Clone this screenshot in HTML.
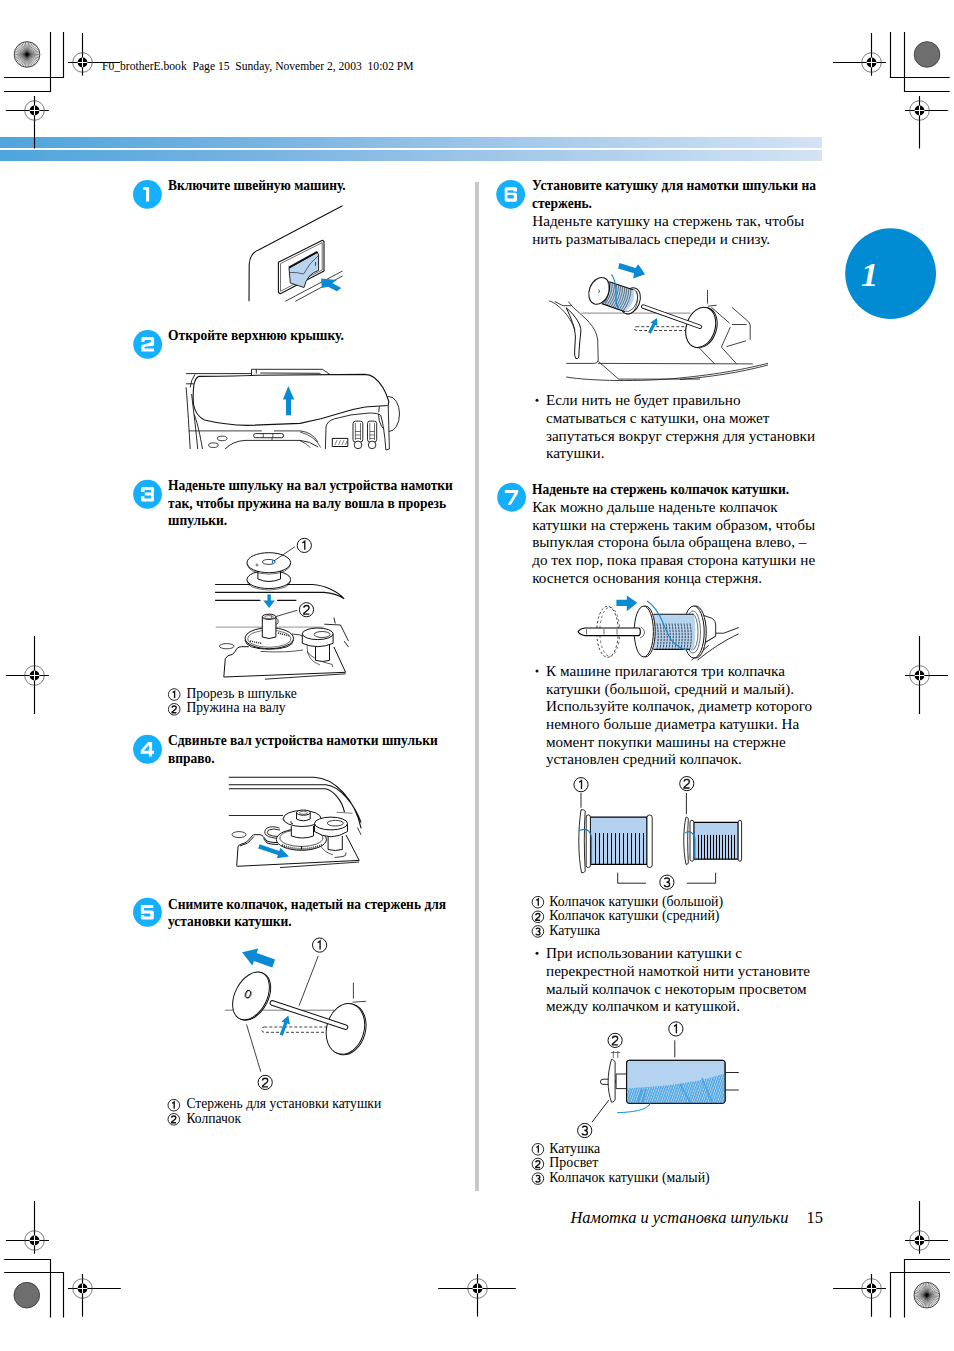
<!DOCTYPE html>
<html><head><meta charset="utf-8"><style>
html,body{margin:0;padding:0;background:#fff}
body{width:954px;height:1351px;position:relative;overflow:hidden}
svg{position:absolute;left:0;top:0}
.t{position:absolute;white-space:nowrap;font-family:"Liberation Serif",serif;color:#000}
.sn{font-family:"Liberation Sans",sans-serif;font-weight:bold;font-size:19px;fill:#fff;text-anchor:middle}
.cn{font-family:"Liberation Sans",sans-serif;fill:#111;text-anchor:middle}
</style></head><body>
<svg width="954" height="1351" viewBox="0 0 954 1351">
<defs><linearGradient id="bg" x1="0" x2="822" gradientUnits="userSpaceOnUse"><stop offset="0" stop-color="#4ea5dc"/><stop offset="0.292" stop-color="#74b2e0"/><stop offset="0.584" stop-color="#9dc5e8"/><stop offset="1" stop-color="#d4e3f4"/></linearGradient></defs><rect x="0" y="137" width="822" height="11" fill="url(#bg)"/><rect x="0" y="150" width="822" height="11" fill="url(#bg)"/><path d="M68 62.5H120M82.5 33V75.7" stroke="#000" stroke-width="1.15"/><circle cx="82.5" cy="62.5" r="9.8" fill="none" stroke="#444" stroke-width="0.7"/><circle cx="82.5" cy="62.5" r="4.9" fill="#000"/><path d="M77.6 62.5H87.4M82.5 57.6V67.4" stroke="#fff" stroke-width="1"/><path d="M5.9 110.5H48.8M34.5 96V148.6" stroke="#000" stroke-width="1.15"/><circle cx="34.5" cy="110.5" r="9.8" fill="none" stroke="#444" stroke-width="0.7"/><circle cx="34.5" cy="110.5" r="4.9" fill="#000"/><path d="M29.6 110.5H39.4M34.5 105.6V115.4" stroke="#fff" stroke-width="1"/><path d="M833 62.5H885.8M871.5 33V75.7" stroke="#000" stroke-width="1.15"/><circle cx="871.5" cy="62.5" r="9.8" fill="none" stroke="#444" stroke-width="0.7"/><circle cx="871.5" cy="62.5" r="4.9" fill="#000"/><path d="M866.6 62.5H876.4M871.5 57.6V67.4" stroke="#fff" stroke-width="1"/><path d="M905 110.5H947.8M919.5 96V148.6" stroke="#000" stroke-width="1.15"/><circle cx="919.5" cy="110.5" r="9.8" fill="none" stroke="#444" stroke-width="0.7"/><circle cx="919.5" cy="110.5" r="4.9" fill="#000"/><path d="M914.6 110.5H924.4M919.5 105.6V115.4" stroke="#fff" stroke-width="1"/><path d="M5.9 675.5H48.9M34.5 635.9V713.9" stroke="#000" stroke-width="1.15"/><circle cx="34.5" cy="675.5" r="9.8" fill="none" stroke="#444" stroke-width="0.7"/><circle cx="34.5" cy="675.5" r="4.9" fill="#000"/><path d="M29.6 675.5H39.4M34.5 670.6V680.4" stroke="#fff" stroke-width="1"/><path d="M905 675.5H948M919.5 635.9V713.9" stroke="#000" stroke-width="1.15"/><circle cx="919.5" cy="675.5" r="9.8" fill="none" stroke="#444" stroke-width="0.7"/><circle cx="919.5" cy="675.5" r="4.9" fill="#000"/><path d="M914.6 675.5H924.4M919.5 670.6V680.4" stroke="#fff" stroke-width="1"/><path d="M5.9 1240.5H49M34.5 1201V1253.8" stroke="#000" stroke-width="1.15"/><circle cx="34.5" cy="1240.5" r="9.8" fill="none" stroke="#444" stroke-width="0.7"/><circle cx="34.5" cy="1240.5" r="4.9" fill="#000"/><path d="M29.6 1240.5H39.4M34.5 1235.6V1245.4" stroke="#fff" stroke-width="1"/><path d="M67.9 1288.5H120.8M82.5 1274V1316.7" stroke="#000" stroke-width="1.15"/><circle cx="82.5" cy="1288.5" r="9.8" fill="none" stroke="#444" stroke-width="0.7"/><circle cx="82.5" cy="1288.5" r="4.9" fill="#000"/><path d="M77.6 1288.5H87.4M82.5 1283.6V1293.4" stroke="#fff" stroke-width="1"/><path d="M438.2 1288.5H515.8M477.5 1274.2V1316.5" stroke="#000" stroke-width="1.15"/><circle cx="477.5" cy="1288.5" r="9.8" fill="none" stroke="#444" stroke-width="0.7"/><circle cx="477.5" cy="1288.5" r="4.9" fill="#000"/><path d="M472.6 1288.5H482.4M477.5 1283.6V1293.4" stroke="#fff" stroke-width="1"/><path d="M905 1240.5H948M919.5 1201V1253.8" stroke="#000" stroke-width="1.15"/><circle cx="919.5" cy="1240.5" r="9.8" fill="none" stroke="#444" stroke-width="0.7"/><circle cx="919.5" cy="1240.5" r="4.9" fill="#000"/><path d="M914.6 1240.5H924.4M919.5 1235.6V1245.4" stroke="#fff" stroke-width="1"/><path d="M833.1 1288.5H885.9M871.5 1274V1316.7" stroke="#000" stroke-width="1.15"/><circle cx="871.5" cy="1288.5" r="9.8" fill="none" stroke="#444" stroke-width="0.7"/><circle cx="871.5" cy="1288.5" r="4.9" fill="#000"/><path d="M866.6 1288.5H876.4M871.5 1283.6V1293.4" stroke="#fff" stroke-width="1"/><path d="M50.5 32V91.5H4M63.5 32V77.5H4M890.5 32V77.5H949.7M904.5 32V91.5H949.7M4.2 1259.5H50.5V1317.5M4.2 1272.5H63.5V1317.5M950 1259.5H904.5V1317.5M950 1272.5H890.5V1317.5" fill="none" stroke="#000" stroke-width="1.15"/><circle cx="27.03" cy="54.46" r="12.83" fill="#fff"/><path d="M27.03 54.46L39.86 54.46M27.03 54.46L39.73 56.29M27.03 54.46L39.34 58.07M27.03 54.46L38.70 59.79M27.03 54.46L37.82 61.40M27.03 54.46L36.73 62.86M27.03 54.46L35.43 64.16M27.03 54.46L33.97 65.25M27.03 54.46L32.36 66.13M27.03 54.46L30.64 66.77M27.03 54.46L28.86 67.16M27.03 54.46L27.03 67.29M27.03 54.46L25.20 67.16M27.03 54.46L23.42 66.77M27.03 54.46L21.70 66.13M27.03 54.46L20.09 65.25M27.03 54.46L18.63 64.16M27.03 54.46L17.33 62.86M27.03 54.46L16.24 61.40M27.03 54.46L15.36 59.79M27.03 54.46L14.72 58.07M27.03 54.46L14.33 56.29M27.03 54.46L14.20 54.46M27.03 54.46L14.33 52.63M27.03 54.46L14.72 50.85M27.03 54.46L15.36 49.13M27.03 54.46L16.24 47.52M27.03 54.46L17.33 46.06M27.03 54.46L18.63 44.76M27.03 54.46L20.09 43.67M27.03 54.46L21.70 42.79M27.03 54.46L23.42 42.15M27.03 54.46L25.20 41.76M27.03 54.46L27.03 41.63M27.03 54.46L28.86 41.76M27.03 54.46L30.64 42.15M27.03 54.46L32.36 42.79M27.03 54.46L33.97 43.67M27.03 54.46L35.43 44.76M27.03 54.46L36.73 46.06M27.03 54.46L37.82 47.52M27.03 54.46L38.70 49.13M27.03 54.46L39.34 50.85M27.03 54.46L39.73 52.63" stroke="#000" stroke-width="0.45"/><circle cx="27.03" cy="54.46" r="12.83" fill="none" stroke="#222" stroke-width="0.8"/><circle cx="926.8" cy="1295.2" r="12.83" fill="#fff"/><path d="M926.80 1295.20L939.63 1295.20M926.80 1295.20L939.50 1297.03M926.80 1295.20L939.11 1298.81M926.80 1295.20L938.47 1300.53M926.80 1295.20L937.59 1302.14M926.80 1295.20L936.50 1303.60M926.80 1295.20L935.20 1304.90M926.80 1295.20L933.74 1305.99M926.80 1295.20L932.13 1306.87M926.80 1295.20L930.41 1307.51M926.80 1295.20L928.63 1307.90M926.80 1295.20L926.80 1308.03M926.80 1295.20L924.97 1307.90M926.80 1295.20L923.19 1307.51M926.80 1295.20L921.47 1306.87M926.80 1295.20L919.86 1305.99M926.80 1295.20L918.40 1304.90M926.80 1295.20L917.10 1303.60M926.80 1295.20L916.01 1302.14M926.80 1295.20L915.13 1300.53M926.80 1295.20L914.49 1298.81M926.80 1295.20L914.10 1297.03M926.80 1295.20L913.97 1295.20M926.80 1295.20L914.10 1293.37M926.80 1295.20L914.49 1291.59M926.80 1295.20L915.13 1289.87M926.80 1295.20L916.01 1288.26M926.80 1295.20L917.10 1286.80M926.80 1295.20L918.40 1285.50M926.80 1295.20L919.86 1284.41M926.80 1295.20L921.47 1283.53M926.80 1295.20L923.19 1282.89M926.80 1295.20L924.97 1282.50M926.80 1295.20L926.80 1282.37M926.80 1295.20L928.63 1282.50M926.80 1295.20L930.41 1282.89M926.80 1295.20L932.13 1283.53M926.80 1295.20L933.74 1284.41M926.80 1295.20L935.20 1285.50M926.80 1295.20L936.50 1286.80M926.80 1295.20L937.59 1288.26M926.80 1295.20L938.47 1289.87M926.80 1295.20L939.11 1291.59M926.80 1295.20L939.50 1293.37" stroke="#000" stroke-width="0.45"/><circle cx="926.8" cy="1295.2" r="12.83" fill="none" stroke="#222" stroke-width="0.8"/><circle cx="927.03" cy="54.46" r="12.83" fill="#6e6e6e" stroke="#333" stroke-width="0.8"/><circle cx="26.8" cy="1295.2" r="12.83" fill="#6e6e6e" stroke="#333" stroke-width="0.8"/><rect x="475" y="182" width="4" height="1009" fill="#c8c8c8"/><circle cx="890.6" cy="273.6" r="45.4" fill="#008bd2"/><circle cx="147.39" cy="194.39" r="14.4" fill="#15b0fd"/><path transform="translate(128,175)" d="M18.03 12.16 H21.17 V26.6 H18.03 V14.7 H15.1 V12.16 Z" fill="#fff" fill-rule="evenodd"/><circle cx="147.67" cy="344.35" r="14.4" fill="#15b0fd"/><path transform="translate(132,329)" d="M9.4 12.9 L9.4 9.5 Q9.4 8.05 11 8.05 L20.5 8.05 Q22.1 8.05 22.1 9.6 L22.1 15.3 Q22.1 16.8 20.6 16.9 L13.6 17.6 Q12.4 17.8 12.4 18.9 L12.4 19.6 L22.1 19.6 L22.1 22.5 L9.4 22.5 L9.4 17.3 Q9.4 15.9 10.8 15.7 L18 13.6 Q19.3 13.3 19.3 12.2 L19.3 11.9 Q19.3 10.9 18.3 10.9 L13.3 10.9 Q12.4 10.9 12.4 11.8 L12.4 12.9 Z" fill="#fff" fill-rule="evenodd"/><circle cx="147.53" cy="494.25" r="14.4" fill="#15b0fd"/><path transform="translate(132,479)" d="M9.06 12.9 V9.6 Q9.06 8.05 10.6 8.05 H20.4 Q22 8.05 22 9.6 V13.6 Q22 14.8 21.2 15 Q22 15.2 22 16.4 V20.9 Q22 22.5 20.4 22.5 H10.6 Q9.06 22.5 9.06 20.9 V17.3 H12.4 V18.7 Q12.4 19.6 13.3 19.6 H18.4 Q19.3 19.6 19.3 18.7 V17.3 Q19.3 16.4 18.4 16.4 H12.75 V13.6 H18.4 Q19.3 13.6 19.3 12.7 V11.8 Q19.3 10.9 18.4 10.9 H13.3 Q12.4 10.9 12.4 11.8 V12.9 Z" fill="#fff" fill-rule="evenodd"/><circle cx="147.53" cy="749.25" r="14.4" fill="#15b0fd"/><path transform="translate(132,734)" d="M16.1 8.05 H20.1 V16.8 H22.1 V19.8 H20.1 V22.5 H16.9 V19.8 H8.7 V16.4 Z M16.9 10.9 L11.9 16.8 H16.9 Z" fill="#fff" fill-rule="evenodd"/><circle cx="147.45" cy="912.25" r="14.4" fill="#15b0fd"/><path transform="translate(132,897)" d="M8.9 8.05 H21.3 V11.07 H12.1 V13.4 H20.2 Q21.8 13.4 21.8 15 V20.9 Q21.8 22.5 20.2 22.5 H10.5 Q8.9 22.5 8.9 20.9 V18.1 H12.1 V18.8 Q12.1 19.6 12.9 19.6 H17.6 Q18.4 19.6 18.4 18.8 V17.2 Q18.4 16.4 17.6 16.4 H12.1 V16.9 H8.9 Z" fill="#fff" fill-rule="evenodd"/><circle cx="510.67" cy="194.35" r="14.4" fill="#15b0fd"/><path transform="translate(495,178)" d="M11.3 9.2 H20.4 Q22 9.2 22 10.8 V13.4 H18.8 Q18.8 12.2 17.8 12.2 H13.4 Q12.4 12.2 12.4 13.2 V14.8 H20.4 Q22 14.8 22 16.4 V22 Q22 23.65 20.4 23.65 H11.3 Q9.7 23.65 9.7 22 V10.8 Q9.7 9.2 11.3 9.2 Z M12.4 16.9 V19.7 Q12.4 20.5 13.2 20.5 H18 Q18.8 20.5 18.8 19.7 V17.7 Q18.8 16.9 18 16.9 Z" fill="#fff" fill-rule="evenodd"/><circle cx="511.60" cy="497.25" r="14.4" fill="#15b0fd"/><path transform="translate(495,481)" d="M9.9 9.05 H23.15 V11.9 L15.8 23.65 H12.75 L19.8 11.9 H9.9 Z" fill="#fff" fill-rule="evenodd"/><circle cx="537" cy="400.2" r="1.5" fill="#111"/><circle cx="537" cy="671.1" r="1.5" fill="#111"/><circle cx="537" cy="953.2" r="1.5" fill="#111"/><circle cx="304.3" cy="545.4" r="7.1" fill="none" stroke="#111" stroke-width="1.0"/><path transform="translate(304.3,545.50) scale(1.000)" d="M-1.9 -2.5 L0.5 -4.3 V4.3" fill="none" stroke="#111" stroke-width="1.35"/><circle cx="306.5" cy="609.7" r="7.1" fill="none" stroke="#111" stroke-width="1.0"/><path transform="translate(306.5,609.80) scale(1.000)" d="M-2.6 -2.1 Q-2.6 -4.3 0 -4.3 Q2.6 -4.3 2.6 -2 Q2.6 -0.4 0.4 0.9 L-2.7 3.5 V4.3 H2.8" fill="none" stroke="#111" stroke-width="1.35"/><circle cx="319.6" cy="945.1" r="7.1" fill="none" stroke="#111" stroke-width="1.0"/><path transform="translate(319.6,945.20) scale(1.000)" d="M-1.9 -2.5 L0.5 -4.3 V4.3" fill="none" stroke="#111" stroke-width="1.35"/><circle cx="265.2" cy="1082.4" r="7.1" fill="none" stroke="#111" stroke-width="1.0"/><path transform="translate(265.2,1082.50) scale(1.000)" d="M-2.6 -2.1 Q-2.6 -4.3 0 -4.3 Q2.6 -4.3 2.6 -2 Q2.6 -0.4 0.4 0.9 L-2.7 3.5 V4.3 H2.8" fill="none" stroke="#111" stroke-width="1.35"/><circle cx="581" cy="784.7" r="7.1" fill="none" stroke="#111" stroke-width="1.0"/><path transform="translate(581,784.80) scale(1.000)" d="M-1.9 -2.5 L0.5 -4.3 V4.3" fill="none" stroke="#111" stroke-width="1.35"/><circle cx="686.8" cy="783.6" r="7.1" fill="none" stroke="#111" stroke-width="1.0"/><path transform="translate(686.8,783.70) scale(1.000)" d="M-2.6 -2.1 Q-2.6 -4.3 0 -4.3 Q2.6 -4.3 2.6 -2 Q2.6 -0.4 0.4 0.9 L-2.7 3.5 V4.3 H2.8" fill="none" stroke="#111" stroke-width="1.35"/><circle cx="666.9" cy="882.2" r="7.1" fill="none" stroke="#111" stroke-width="1.0"/><path transform="translate(666.9,882.30) scale(1.000)" d="M-2.5 -3.1 Q-1.6 -4.3 0 -4.3 Q2.5 -4.3 2.5 -2.2 Q2.5 -0.3 -0.4 -0.2 Q2.7 -0.1 2.7 2.1 Q2.7 4.3 0 4.3 Q-2.1 4.3 -2.8 2.8" fill="none" stroke="#111" stroke-width="1.35"/><circle cx="675.9" cy="1028.9" r="7.1" fill="none" stroke="#111" stroke-width="1.0"/><path transform="translate(675.9,1029.00) scale(1.000)" d="M-1.9 -2.5 L0.5 -4.3 V4.3" fill="none" stroke="#111" stroke-width="1.35"/><circle cx="615.1" cy="1040.4" r="7.1" fill="none" stroke="#111" stroke-width="1.0"/><path transform="translate(615.1,1040.50) scale(1.000)" d="M-2.6 -2.1 Q-2.6 -4.3 0 -4.3 Q2.6 -4.3 2.6 -2 Q2.6 -0.4 0.4 0.9 L-2.7 3.5 V4.3 H2.8" fill="none" stroke="#111" stroke-width="1.35"/><circle cx="584.7" cy="1130.5" r="7.1" fill="none" stroke="#111" stroke-width="1.0"/><path transform="translate(584.7,1130.60) scale(1.000)" d="M-2.5 -3.1 Q-1.6 -4.3 0 -4.3 Q2.5 -4.3 2.5 -2.2 Q2.5 -0.3 -0.4 -0.2 Q2.7 -0.1 2.7 2.1 Q2.7 4.3 0 4.3 Q-2.1 4.3 -2.8 2.8" fill="none" stroke="#111" stroke-width="1.35"/><circle cx="174.2" cy="694.5" r="5.8" fill="none" stroke="#111" stroke-width="0.9"/><path transform="translate(174.2,694.60) scale(0.782)" d="M-1.9 -2.5 L0.5 -4.3 V4.3" fill="none" stroke="#111" stroke-width="1.73"/><circle cx="174.2" cy="709.3000000000001" r="5.8" fill="none" stroke="#111" stroke-width="0.9"/><path transform="translate(174.2,709.40) scale(0.782)" d="M-2.6 -2.1 Q-2.6 -4.3 0 -4.3 Q2.6 -4.3 2.6 -2 Q2.6 -0.4 0.4 0.9 L-2.7 3.5 V4.3 H2.8" fill="none" stroke="#111" stroke-width="1.73"/><circle cx="173.8" cy="1105.1999999999998" r="5.8" fill="none" stroke="#111" stroke-width="0.9"/><path transform="translate(173.8,1105.30) scale(0.782)" d="M-1.9 -2.5 L0.5 -4.3 V4.3" fill="none" stroke="#111" stroke-width="1.73"/><circle cx="173.8" cy="1119.3" r="5.8" fill="none" stroke="#111" stroke-width="0.9"/><path transform="translate(173.8,1119.40) scale(0.782)" d="M-2.6 -2.1 Q-2.6 -4.3 0 -4.3 Q2.6 -4.3 2.6 -2 Q2.6 -0.4 0.4 0.9 L-2.7 3.5 V4.3 H2.8" fill="none" stroke="#111" stroke-width="1.73"/><circle cx="537.9" cy="902.2" r="5.8" fill="none" stroke="#111" stroke-width="0.9"/><path transform="translate(537.9,902.30) scale(0.782)" d="M-1.9 -2.5 L0.5 -4.3 V4.3" fill="none" stroke="#111" stroke-width="1.73"/><circle cx="537.9" cy="916.8000000000001" r="5.8" fill="none" stroke="#111" stroke-width="0.9"/><path transform="translate(537.9,916.90) scale(0.782)" d="M-2.6 -2.1 Q-2.6 -4.3 0 -4.3 Q2.6 -4.3 2.6 -2 Q2.6 -0.4 0.4 0.9 L-2.7 3.5 V4.3 H2.8" fill="none" stroke="#111" stroke-width="1.73"/><circle cx="537.9" cy="931.4" r="5.8" fill="none" stroke="#111" stroke-width="0.9"/><path transform="translate(537.9,931.50) scale(0.782)" d="M-2.5 -3.1 Q-1.6 -4.3 0 -4.3 Q2.5 -4.3 2.5 -2.2 Q2.5 -0.3 -0.4 -0.2 Q2.7 -0.1 2.7 2.1 Q2.7 4.3 0 4.3 Q-2.1 4.3 -2.8 2.8" fill="none" stroke="#111" stroke-width="1.73"/><circle cx="537.9" cy="1149.3" r="5.8" fill="none" stroke="#111" stroke-width="0.9"/><path transform="translate(537.9,1149.40) scale(0.782)" d="M-1.9 -2.5 L0.5 -4.3 V4.3" fill="none" stroke="#111" stroke-width="1.73"/><circle cx="537.9" cy="1164.0" r="5.8" fill="none" stroke="#111" stroke-width="0.9"/><path transform="translate(537.9,1164.10) scale(0.782)" d="M-2.6 -2.1 Q-2.6 -4.3 0 -4.3 Q2.6 -4.3 2.6 -2 Q2.6 -0.4 0.4 0.9 L-2.7 3.5 V4.3 H2.8" fill="none" stroke="#111" stroke-width="1.73"/><circle cx="537.9" cy="1178.6" r="5.8" fill="none" stroke="#111" stroke-width="0.9"/><path transform="translate(537.9,1178.70) scale(0.782)" d="M-2.5 -3.1 Q-1.6 -4.3 0 -4.3 Q2.5 -4.3 2.5 -2.2 Q2.5 -0.3 -0.4 -0.2 Q2.7 -0.1 2.7 2.1 Q2.7 4.3 0 4.3 Q-2.1 4.3 -2.8 2.8" fill="none" stroke="#111" stroke-width="1.73"/>
<g id="il1" fill="none" stroke="#111" stroke-width="1.1" stroke-linejoin="round">
<path d="M249 301.3 L249.2 264 Q250 253 259 249.8 L342.5 205.7"/>
<path d="M278.4 262.3 L322.4 240.3 L324 241.5 L324 271 L280.3 293.7 L278.4 292.5 Z" fill="#fff"/>
<path d="M280.5 263.6 L322.2 242.6 L322.2 270 L280.5 291.2 Z" stroke-width="0.6"/>
<path d="M289 268 L317.4 252.2 L318.6 255 L318.6 270.4 Q307 274 304 287.5 L290.3 283 Z" fill="#b8d4ee" stroke-width="0.9"/>
<path d="M288.8 267.6 L317.4 251.8" stroke-width="2"/>
<path d="M289.5 272.5 Q297 272 303.5 274 Q310 262 318 256" stroke-width="0.6"/>
<path d="M315.5 262 V266" stroke-width="0.7"/>
<path d="M285.3 301.3 L342.5 271 M295.3 301.3 L342.5 276" stroke-width="0.8"/>
<path d="M321.1 278.6 L336.9 279.9 L332.5 283.3 L341.3 288 L336.9 291.2 L328.1 286.8 L321.8 288 Z" fill="#0a8ad2" stroke="none"/>
</g>
<g id="il2" fill="none" stroke="#111" stroke-width="1" stroke-linejoin="round">
<path d="M186.1 373.6 L251.5 373.6 M251.5 375.5 V369.3 H322.5 L332.3 376.1 M256.3 369.5 V373.5 M260.4 373 L319.6 373.3 L323.6 376.7" stroke-width="0.9"/>
<path d="M186.1 383.8 H193.6 M186.1 387.3 C 188 410, 189 430, 190.2 449 M191.6 394 C 194 415, 196 430, 197.7 449 M194.3 414.5 C 198 425, 200 435, 202.5 449 M195 374.3 Q 191 380 190.2 387.3" stroke-width="0.9"/>
<path d="M188.9 430.9 H261.8 M274 430.9 H300 Q312 432 318 442" stroke-width="0.8"/>
<ellipse cx="389" cy="414" rx="10.5" ry="17.5" fill="#fff" stroke-width="0.9"/>
<path d="M199.1 376.4 Q196 377 194 384 Q192.5 395 193.6 405 Q196 416 204.5 420 Q225 425 248.1 425.4 L300 423.4 L320.8 418.8 L348.4 410.7 Q360 407.5 368 406.7 L388.2 405.5 L388.8 401.5 Q384 385 373.8 377.3 Q370 374.6 364.6 374.4 L256 375.2 Q240 376 199.1 376.4 Z" fill="#fff" stroke-width="1.1"/>
<path d="M388.2 405.5 L389.4 449 L385.9 450 Q384 425 380.7 415.3 Q378 413 369.2 413 Q350 414 334.6 418.8 Q327 421 326 426.9 L325.4 449" fill="#fff" stroke-width="0.9"/>
<rect x="353" y="421.1" width="9.8" height="21" rx="2.5" fill="#fff" stroke-width="0.9"/>
<rect x="367.5" y="421.1" width="9.2" height="21" rx="2.5" fill="#fff" stroke-width="0.9"/>
<path d="M355.4 423 V440 M360.5 423 V440 M369.8 423 V440 M374.5 423 V440 M355.4 431.5 H360.5 M355.4 435 H360.5 M355.4 438.4 H360.5 M369.8 431.5 H374.5 M369.8 435 H374.5 M369.8 438.4 H374.5" stroke-width="0.6"/>
<circle cx="358" cy="444.9" r="3.8" fill="#fff" stroke-width="0.9"/>
<circle cx="372.1" cy="444.9" r="3.8" fill="#fff" stroke-width="0.9"/>
<rect x="332.3" y="438.4" width="15.5" height="8.1" stroke-width="1"/>
<path d="M335 445 L337 440 M338.5 445 L340.5 440 M342 445 L344 440 M345.5 445 L347 441" stroke-width="0.5"/>
<path d="M225 449 Q233 441 245 440.4 L300 440.4 Q310 441 318 447" stroke-width="0.9"/>
<path d="M300 432 Q315 436 320.8 447.6 M300 440.7 Q306 443 310.4 447.6" stroke-width="0.7"/>
<rect x="253.6" y="433.6" width="30" height="4.1" rx="2" stroke-width="0.9"/>
<path d="M263 433.6 Q264 435.6 263 437.7 M272.5 433.6 Q273.5 435.6 272.5 437.7 M272 437.7 V440" stroke-width="0.7"/>
<ellipse cx="222.2" cy="438.4" rx="4.8" ry="2.3" stroke-width="0.8"/>
<ellipse cx="213.4" cy="445.2" rx="4.8" ry="2.3" stroke-width="0.8"/>
<path d="M288.3 385.9 L294.2 399.5 L291.1 399.5 L291.1 415.2 L286 415.2 L286 399.5 L282.9 399.5 Z" fill="#0a8ad2" stroke="none"/>
</g>
<g id="il3" fill="none" stroke="#111" stroke-width="1" stroke-linejoin="round">
<path d="M215.1 584.5 L312.4 584.5 C 325 585, 338 592, 344.2 598.8 M215.1 592.4 L324 592.4 C 333 593, 340 596, 344.2 598.8 M215.1 600.4 L260.4 600.4 M277.1 600.4 L296.4 600.4" stroke-width="1.1"/>
<ellipse cx="268.8" cy="579.5" rx="21.8" ry="9" fill="#fff"/>
<path d="M247 581 Q248 589 268.8 590 Q289.5 589 290.6 581" stroke-width="0.6"/>
<rect x="257.9" y="565" width="22.6" height="15.5" fill="#fff" stroke="none"/>
<path d="M257.9 567 V579 Q268.8 584 280.5 579 V567"/>
<ellipse cx="268.8" cy="562.7" rx="21.8" ry="10" fill="#fff"/>
<path d="M247 563.5 Q248 573.5 268.8 574.2 Q289.5 573.5 290.6 563.5" stroke-width="0.6"/>
<ellipse cx="268.8" cy="561.9" rx="6.4" ry="2.5" stroke-width="0.8"/>
<path d="M272.5 560 V563.5" stroke="#0a8ad2" stroke-width="1.2"/>
<circle cx="257" cy="565" r="1" stroke-width="0.6"/>
<path d="M273.8 561 L294.8 546.8" stroke-width="0.8"/>
<path d="M267.4 594.6 L270.8 594.6 L270.8 600.4 L274.9 600.4 L269.1 608 L263.3 600.4 L267.4 600.4 Z" fill="#0a8ad2" stroke="none"/>
<path d="M273.8 617.2 L297.3 610.2" stroke-width="0.8"/>
<path d="M215.7 627.1 L323.6 627.1" stroke="#666" stroke-width="0.7"/>
<path d="M333.9 617.6 L335.3 623.5 M324.3 624.2 L340.5 625 L348.5 641.1 M344.1 641.1 L348.5 647" stroke-width="0.9"/>
<path d="M223.8 677 L225.3 658.7 Q227 655 232.6 654.3 Q235 652 237 648.4 Q239 646.7 241.4 646.7 L248.8 646.7" stroke-width="1"/>
<path d="M223.8 677 L345.6 672.3 L333.9 647" stroke-width="1"/>
<path d="M264.9 679.2 L345.6 673.8" stroke-width="0.9"/>
<path d="M260.5 651.4 Q285 653 303 650 M307 651 Q312 660 332.4 664.5 L332.4 667" stroke-width="0.7"/>
<ellipse cx="226.7" cy="646.2" rx="7.3" ry="2.6" stroke-width="0.8"/>
<path d="M245 640 Q246 649 269.3 649.2 Q292.5 649 293.5 640" fill="#fff"/>
<ellipse cx="269.3" cy="638.2" rx="24.2" ry="10.5" fill="#fff"/>
<ellipse cx="269.3" cy="638.7" rx="21.5" ry="8.6" stroke-width="0.6"/>
<path d="M250 641 L262 643.5 M278 633 L290 636" stroke="#333" stroke-width="1.4" stroke-dasharray="1.2 0.8"/>
<path d="M292 634 Q300 634 305 637" stroke-width="0.8"/>
<path d="M262.3 617 V637 Q269.1 640 275.9 637 V617" fill="#fff"/>
<ellipse cx="269.1" cy="616.8" rx="6.8" ry="2.6" fill="#fff"/>
<ellipse cx="269.1" cy="617.2" rx="4.5" ry="1.6" stroke-width="0.6"/>
<path d="M271.5 615.5 V619" stroke="#0a8ad2" stroke-width="1.1"/>
<path d="M275.2 617.5 Q279 619 278 623 Q277 625 275.9 624" stroke-width="0.8"/>
<path d="M315.5 641 V660.4 Q322.5 662.5 329.5 660.4 V641" fill="#fff"/>
<path d="M302.3 633.8 V643.3 Q317.7 650 333.1 643.3 V633.8" fill="#fff"/>
<ellipse cx="317.7" cy="633.8" rx="15.4" ry="5.8" fill="#fff"/>
<ellipse cx="322.1" cy="634.5" rx="8" ry="3" stroke-width="0.8"/>
<path d="M307 645 Q306 660 320 665" stroke-width="0.6"/>
</g>
<g id="il4" fill="none" stroke="#111" stroke-width="1" stroke-linejoin="round">
<path d="M228.8 777.3 L313.9 777.3 C 335 778, 355 800, 361.1 828.3 M228.8 784.7 L326 784.7 C 340 786, 355 805, 361.1 822.6 M228.8 788.8 L325 788.8 C 333 790, 342 800, 344.5 812.3" stroke-width="1.1"/>
<path d="M228.8 815.5 L283 815.5" stroke-width="0.9"/>
<path d="M336.6 812.3 L352.6 813.2" stroke="#777" stroke-width="1.1"/>
<path d="M357.4 827.4 L361.1 834.9" stroke-width="0.8"/>
<path d="M236.7 865.7 L238 846.8 Q239 844.5 240.9 844.3 Q244 843.5 246.8 841.8 L253.5 834.7 L260.2 834.7 Q262 835 263.5 836.8 L266.9 841 Q270 842.5 277 842.6 M240 846 Q242 845 247.5 843.2 L254 836.5 M263.5 838.5 L267 843 Q271 844.5 278 844.5 M346 834.9 L359.2 860.4 L236.7 866.3" stroke-width="1"/>
<path d="M280 867.6 L359.2 862" stroke-width="0.9"/>
<path d="M346 852.5 Q346.5 856 343 856.5 L334.7 857.5" stroke-width="0.8"/>
<path d="M321.5 847.2 Q326 853 332.8 854.7" stroke-width="0.7"/>
<ellipse cx="239" cy="834.6" rx="7" ry="3" stroke-width="0.8"/>
<path d="M279.5 828 Q272 825.5 267 828 Q263 831.5 266 835 Q270 838 279 838.5 M280 830 Q273 828 268.5 830 Q266 832.5 268.5 834.5 Q272 836.5 279 836.5" stroke-width="0.9"/>
<ellipse cx="301.4" cy="839.5" rx="25" ry="10.8" fill="#fff"/>
<ellipse cx="301.4" cy="838" rx="21.5" ry="8.5" stroke-width="0.7"/>
<path d="M282 845 Q301 853 322 845" stroke="#333" stroke-width="2.2" stroke-dasharray="1 1"/>
<path d="M301.5 846 V849.5" stroke-width="1.2"/>
<path d="M291.3 826 V836 Q302.4 840 313.5 836 V826" fill="#fff"/>
<path d="M283.3 818.5 V820 Q302.2 830 321.1 820 V818.5" fill="#fff"/>
<ellipse cx="302.2" cy="818.5" rx="18.9" ry="8" fill="#fff"/>
<path d="M296.5 812.5 V819 Q303.4 822.5 310.2 819 V812.5" fill="#fff"/>
<ellipse cx="303.4" cy="812.6" rx="6.8" ry="2.6" fill="#fff"/>
<ellipse cx="303.4" cy="812.8" rx="4" ry="1.5" stroke-width="0.6"/>
<path d="M290 822 L292 822 M291 823.5 L293 823.5" stroke-width="0.8"/>
<path d="M328.1 836 V849.5 Q335.2 851.5 342.3 849.5 V836" fill="#fff"/>
<path d="M314.5 823.5 V831.5 Q331 842 347.5 831.5 V823.5" fill="#fff"/>
<ellipse cx="331" cy="823.5" rx="16.5" ry="6.4" fill="#fff"/>
<ellipse cx="335.3" cy="823.2" rx="8" ry="2.8" stroke-width="0.8"/>
<path d="M259.6 844.2 L279.3 850.9 L280.4 847.8 L289 856.6 L276.8 858.2 L277.9 855.1 L258.2 848.4 Z" fill="#0a8ad2" stroke="none"/>
</g>
<g id="il5" fill="none" stroke="#111" stroke-width="1" stroke-linejoin="round">
<path d="M225.1 1010.2 L334.7 1010.2" stroke="#555" stroke-width="0.8"/>
<path d="M352.6 1002.2 L365.9 1001.3 M353.4 982.6 V998.6" stroke-width="0.8"/>
<path d="M318.3 955.8 L299.1 1005.7 M246.5 1024.4 L260.8 1071.7" stroke-width="0.8"/>
<path d="M242.1 952.3 L258.3 948.4 L256.7 952.9 L275.1 959.4 L272.3 967.4 L253.9 960.9 L252.3 965.4 Z" fill="#0a8ad2" stroke="none"/>
<ellipse cx="252.3" cy="996.3" rx="16" ry="25.5" transform="rotate(27 252.3 996.3)" fill="#fff"/>
<ellipse cx="251" cy="995.9" rx="16" ry="25.5" transform="rotate(27 251 995.9)" fill="#fff"/>
<ellipse cx="247.8" cy="994.1" rx="2.5" ry="4" transform="rotate(20 247.8 994.1)" stroke-width="0.8"/>
<ellipse cx="248.6" cy="994.3" rx="2.5" ry="4" transform="rotate(20 248.6 994.3)" stroke-width="0.6"/>
<rect x="261.7" y="1027" width="81" height="5.3" rx="2.6" stroke-width="0.8" stroke-dasharray="3 2"/>
<ellipse cx="346.8" cy="1029.3" rx="18.7" ry="25.8" transform="rotate(15 346.8 1029.3)" fill="#fff"/>
<ellipse cx="345.4" cy="1028.9" rx="18.7" ry="25.8" transform="rotate(15 345.4 1028.9)" fill="#fff"/>
<path d="M272.4 1003 L345.4 1027.1" stroke-width="5.6" stroke-linecap="round"/>
<path d="M272.4 1003 L345.4 1027.1" stroke="#fff" stroke-width="3.6" stroke-linecap="round"/>
<path d="M288.4 1015.5 L289.9 1024.5 L287.3 1023.6 L282.9 1035.7 L279.7 1034.5 L284.1 1022.4 L281.5 1021.5 Z" fill="#0a8ad2" stroke="none"/>
</g>
<g id="il6" fill="none" stroke="#111" stroke-width="1" stroke-linejoin="round">
<path d="M581.4 313.1 L690.5 313.1" stroke="#666" stroke-width="0.8"/>
<path d="M548.9 301 C 556 302, 570 315, 575 330 M554.7 301.5 L563 305.7 L571.4 305.7 M568.3 301.5 L573.5 307.8 C 585 318, 596 326, 597.7 340 L598.2 360.2 Q597.5 363.4 594.5 363.4 L566.2 363.4" stroke-width="0.8"/>
<path d="M566.2 307.8 C 576 316, 581 325, 580.9 331 C 580 340, 579 348, 578.8 357.1 Q577.5 359.5 575.8 358.5 Q574.3 356 574.6 352 L575.4 337 C 575 327, 571 318, 566.2 307.8 Z" stroke-width="1"/>
<path d="M598.2 363.4 L752.9 363.9 M598.2 361.3 L618.6 379.1 L700 379.1 M566.2 377 C 590 381, 640 382, 680 378 C 720 374, 745 369, 768 363.3 M680 379.5 C 720 376, 745 371, 768 365" stroke-width="0.8"/>
<path d="M707.5 290 V303.6 M707.8 306.2 L716.7 305.2 M711.4 307.3 L729.3 323 M731.9 324.5 L746.6 324.5 M731.9 307.3 L748.7 321.9 L750.2 325 L750.2 339.7 M730.3 327.2 L721.4 347.1 L736.6 363.9 M726.6 346.6 L746 340.8 M699.4 348.1 L714.6 363.9" stroke-width="0.8"/>
<rect x="634.4" y="326.7" width="64" height="3.8" rx="1.9" stroke-width="0.8" stroke-dasharray="3 2"/>
<ellipse cx="702.2" cy="327.6" rx="14.3" ry="20.6" transform="rotate(18 702.2 327.6)" fill="#fff"/>
<ellipse cx="700.7" cy="327.4" rx="14.3" ry="20.6" transform="rotate(18 700.7 327.4)" fill="#fff" stroke-width="1.1"/>
<path d="M643.2 306.6 L699.8 326.7" stroke-width="4.4" stroke-linecap="round"/>
<path d="M643.2 306.6 L699.8 326.7" stroke="#fff" stroke-width="2.6" stroke-linecap="round"/>
<ellipse cx="630.5" cy="300.8" rx="9.2" ry="13.6" transform="rotate(22 630.5 300.8)" fill="#fff" stroke-width="1"/>
<ellipse cx="629.8" cy="300.5" rx="7" ry="11.5" transform="rotate(22 629.8 300.5)" fill="none" stroke-width="0.6"/>
<path d="M609.3 281.8 L633 289.8 Q637 301 625 311.8 L601.8 303.6 Z" fill="#b6d4f0" stroke="none"/>
<path d="M610.3 282.2 Q610.1 294.1 602.8 304.0 M612.4 282.9 Q612.1 294.8 604.8 304.7 M614.5 283.6 Q614.2 295.5 606.8 305.4 M616.5 284.3 Q616.2 296.2 608.9 306.1 M618.6 285.0 Q618.2 296.9 610.9 306.9 M620.6 285.7 Q620.3 297.7 612.9 307.6 M622.7 286.4 Q622.3 298.4 614.9 308.3 M624.8 287.1 Q624.4 299.1 616.9 309.1 M626.8 287.8 Q626.4 299.8 619.0 309.8 M628.9 288.5 Q628.4 300.5 621.0 310.5 M631.0 289.2 Q630.5 301.2 623.0 311.2" stroke="#1a1a1a" stroke-width="0.55"/>
<path d="M609.3 281.8 L633 289.8 M601.8 303.6 L625 311.8" stroke-width="1.2"/>
<path d="M636.5 291 Q 640 300 634 311 Q 630 315 626 314" stroke-width="0.6"/>
<ellipse cx="599.2" cy="290.9" rx="9.8" ry="13.8" transform="rotate(22 599.2 290.9)" fill="#fff" stroke-width="1.1"/>
<path d="M607.5 280.5 Q611 291 605 303" stroke-width="0.5"/>
<path d="M598 289.5 Q600 290 599.5 292 L598 292.5" stroke-width="0.6"/>
<path d="M611.4 274.3 C 616 280, 616.5 292, 616 298 C 615.5 303, 617 306, 618.5 308.7" stroke="#0a8ad2" stroke-width="1.1"/>
<path d="M645 274.3 L633.2 278.5 L633.9 273.3 L618.1 268.4 L619.4 263 L635.5 268 L638.2 264.2 Z" fill="#0a8ad2" stroke="none"/>
<path d="M657 318 L657.5 326.1 L655.3 325 L650.9 333.7 L648.1 332.3 L652.5 323.6 L650.3 322.5 Z" fill="#0a8ad2" stroke="none"/>
</g>
<g id="il7" fill="none" stroke="#111" stroke-width="1" stroke-linejoin="round">
<path d="M715.7 633.2 L723.8 633.2 L738.8 627.5 M691.5 660.3 L708.8 645.3 M697.3 660.3 C 710 650, 725 640, 738.8 633.8 M704.2 643 L715.7 636.1" stroke-width="0.9"/>
<path d="M701.9 614.8 L712.6 618.5 Q715.7 621 715.7 625 L715.7 636.1 L704.2 643" fill="#fff" stroke-width="0.9"/>
<ellipse cx="607.5" cy="631.8" rx="10.8" ry="25.5" stroke-width="0.8" stroke-dasharray="2.5 2"/><ellipse cx="609.8" cy="631.8" rx="10" ry="24.5" stroke-width="0.6" stroke-dasharray="2.5 2.5"/>

<ellipse cx="695.8" cy="632" rx="10.4" ry="26" fill="#fff"/>
<ellipse cx="693.8" cy="632" rx="10.4" ry="26" fill="#fff"/>
<ellipse cx="693" cy="632" rx="7.5" ry="21" stroke-width="0.6"/>
<ellipse cx="692.5" cy="632" rx="5.5" ry="18" stroke-width="0.6"/>
<path d="M653.4 614.2 L693.8 614.2 Q697 630 693.8 649.4 L653.4 649.4 Z" fill="#b6d4f0" stroke="none"/>
<path d="M653.4 614.2 L693.8 614.2 M653.4 649.4 L690 649.4" stroke-width="1.1"/>
<g stroke="#111" stroke-width="0.75" stroke-dasharray="2.4 0.7">
<path d="M657 623.5 Q659.5 636 657 649"/><path d="M660 623.5 Q662.5 636 660 649"/><path d="M663 623.5 Q665.5 636 663 649"/><path d="M666 623.5 Q668.5 636 666 649"/><path d="M669 623.5 Q671.5 636 669 649"/><path d="M672 623.5 Q674.5 636 672 649"/><path d="M675 623.5 Q677.5 636 675 649"/><path d="M678 623.5 Q680.5 636 678 649"/><path d="M681 623.5 Q683.5 636 681 649"/><path d="M684 623.5 Q686.5 636 684 649"/><path d="M687 623.5 Q689.5 636 687 649"/><path d="M690 623.5 Q692.5 636 690 649"/>
</g>
<ellipse cx="645.6" cy="631.5" rx="9.6" ry="25.4" fill="#fff"/>
<ellipse cx="643.8" cy="631.5" rx="9.6" ry="25.4" fill="#fff"/>

<path d="M641 627 Q645 629 644.5 633 Q644 637 640 638" stroke-width="0.6"/><path d="M578 631.8 Q580 628.5 585 628 L638.5 628 Q640.3 628 640.3 631.8 Q640.3 635.6 638.5 635.6 L585 635.6 Q580 635 578 631.8 Z" fill="#fff" stroke="#000" stroke-width="1.2"/><path d="M586.5 629 V634.5 M604 629 V634.5 M617 629 V634.5" stroke-width="0.6"/>
<path d="M647.1 601 C 655 606, 660 615, 663.8 624.6 C 667 632, 669 638, 673 641.9 C 677 646, 682 649, 686.9 650" stroke="#0a8ad2" stroke-width="1.1"/>
<path d="M616.4 599.7 L626.8 599.7 L626.8 595.5 L637.3 602.8 L626.8 611.2 L626.8 606 L616.4 606 Z" fill="#0a8ad2" stroke="none"/>
</g>
<g id="il8" fill="none" stroke="#111" stroke-width="1" stroke-linejoin="round">
<path d="M581 793 V807.7 M686.4 793 V814 M617.7 872.7 V883.2 H646 M686.8 883.2 H715.6 V872.7" stroke-width="0.9"/>
<rect x="590.4" y="817.2" width="56.6" height="47.1" fill="#b4d2f0" stroke="#000" stroke-width="1.2"/>
<path d="M595.5 833 V864.3 M599.5 833 V864.3 M603.5 833 V864.3 M607.5 833 V864.3 M611.5 833 V864.3 M615.5 833 V864.3 M619.5 833 V864.3 M623.5 833 V864.3 M627.5 833 V864.3 M631.5 833 V864.3 M635.5 833 V864.3 M639.5 833 V864.3 M643.5 833 V864.3 " stroke="#000" stroke-width="1"/>
<rect x="586.2" y="815" width="4.2" height="52.5" rx="2" fill="#fff" stroke-width="0.9"/>
<rect x="647" y="815" width="5.2" height="52.5" rx="2.5" fill="#fff" stroke-width="0.9"/>
<path d="M581 809.8 C 578 830, 578 855, 581.5 872.7 C 584 872.7, 585.5 872, 585.2 870 C 584 850, 584 830, 585.2 811 C 584.5 809.5, 582.5 809.8, 581 809.8 Z" fill="#fff" stroke-width="0.9"/>
<path d="M579 830.8 C 583 829, 587 829, 589 831.5 Q 591.5 834 591.5 838 L591.5 864" stroke="#0a8ad2" stroke-width="1.2"/>
<rect x="693.8" y="822.4" width="44.4" height="36.7" fill="#b4d2f0" stroke="#000" stroke-width="1.2"/>
<path d="M698.5 834.9 V859.3 M701.5 834.9 V859.3 M704.5 834.9 V859.3 M707.5 834.9 V859.3 M710.5 834.9 V859.3 M713.5 834.9 V859.3 M716.5 834.9 V859.3 M719.5 834.9 V859.3 M722.5 834.9 V859.3 M725.5 834.9 V859.3 M728.5 834.9 V859.3 M731.5 834.9 V859.3 M734.5 834.9 V859.3 " stroke="#000" stroke-width="1"/>
<rect x="690" y="820.3" width="3.8" height="40.9" rx="1.9" fill="#fff" stroke-width="0.9"/>
<rect x="738.2" y="820.3" width="3.4" height="40.9" rx="1.7" fill="#fff" stroke-width="0.9"/>
<path d="M686 817.2 C 683 830, 683 850, 686 864.3 C 687.5 864.3, 688.5 864, 688.3 862 C 687.5 848, 687.5 832, 688.3 819 C 688 817.5, 687 817.2, 686 817.2 Z" fill="#fff" stroke-width="0.9"/>
<path d="M685 833.1 C 687 831.5, 689.7 831.3, 692 833 Q 694.9 835 694.9 838 L694.9 858.4" stroke="#0a8ad2" stroke-width="1.2"/>
</g>
<g id="il9" fill="none" stroke="#111" stroke-width="1" stroke-linejoin="round">
<path d="M674.8 1040.4 V1057.2 M592 1122.2 L608.8 1100.1 M725.1 1072.5 H738.8 M725.1 1090 H738.8" stroke-width="0.9"/>
<path d="M610.9 1052.5 H620.3 M613.3 1051 V1058 M617.8 1051 V1058" stroke-width="0.6"/>
<rect x="600.4" y="1079.2" width="15" height="5.2" rx="2.6" fill="#fff" stroke-width="0.9"/>
<rect x="616.1" y="1074" width="10.5" height="14.6" fill="#fff" stroke-width="0.9"/>
<path d="M611.5 1059.3 C 607 1075, 607 1090, 611.5 1102.2 C 613.5 1102.2, 615 1101, 615.1 1099 L615.1 1062 C 614 1060, 613 1059.3, 611.5 1059.3 Z" fill="#fff" stroke-width="0.9"/>
<rect x="626.6" y="1060.3" width="98.5" height="43" rx="2.5" fill="#b4d3f0" stroke-width="1"/>
<defs><pattern id="tx1" width="2.2" height="6" patternUnits="userSpaceOnUse" patternTransform="rotate(20)"><rect width="2.2" height="6" fill="#bcdaf3" stroke="none"/><rect width="1.1" height="6" fill="#4da6e2" stroke="none"/></pattern><pattern id="tx2" width="2.4" height="6" patternUnits="userSpaceOnUse" patternTransform="rotate(-25)"><rect width="1" height="6" fill="#3d9bdc" opacity="0.55" stroke="none"/></pattern></defs>
<path d="M627.2 1088.4 L660 1086 Q700 1082 724.5 1073.5 L724.5 1102.7 L627.2 1102.7 Z" fill="url(#tx1)" stroke="none"/>
<path d="M627.2 1088.4 L660 1086 Q700 1082 724.5 1073.5 L724.5 1102.7 L627.2 1102.7 Z" fill="url(#tx2)" stroke="none"/>
<path d="M638 1102 L642 1089 M642 1102 L646 1089 M690 1102 L680 1084 M712 1102 L702 1078" stroke="#4aa3e0" stroke-width="1.6"/>
<rect x="626.6" y="1060.3" width="98.5" height="43" rx="2.5" fill="none" stroke="#111" stroke-width="1"/>
<path d="M617.2 1112.7 C 635 1112, 648 1110, 650.7 1102.2" stroke="#0a8ad2" stroke-width="1"/>
</g>

</svg>
<div class="t" style="left:168.1px;top:177.38px;font-size:14.8px;line-height:17.65px;font-weight:bold;transform:scaleX(0.912);transform-origin:0 0">Включите швейную машину.</div><div class="t" style="left:168.1px;top:327.18px;font-size:14.8px;line-height:17.65px;font-weight:bold;transform:scaleX(0.912);transform-origin:0 0">Откройте верхнюю крышку.</div><div class="t" style="left:168.1px;top:477.18px;font-size:14.8px;line-height:17.65px;font-weight:bold;transform:scaleX(0.912);transform-origin:0 0">Наденьте шпульку на вал устройства намотки<br>так, чтобы пружина на валу вошла в прорезь<br>шпульки.</div><div class="t" style="left:186.4px;top:686.66px;font-size:13.6px;line-height:14.7px">Прорезь в шпульке<br>Пружина на валу</div><div class="t" style="left:168.1px;top:732.18px;font-size:14.8px;line-height:17.65px;font-weight:bold;transform:scaleX(0.912);transform-origin:0 0">Сдвиньте вал устройства намотки шпульки<br>вправо.</div><div class="t" style="left:168.1px;top:895.68px;font-size:14.8px;line-height:17.65px;font-weight:bold;transform:scaleX(0.912);transform-origin:0 0">Снимите колпачок, надетый на стержень для<br>установки катушки.</div><div class="t" style="left:186.4px;top:1097.36px;font-size:13.6px;line-height:14.7px">Стержень для установки катушки<br>Колпачок</div><div class="t" style="left:531.8000000000001px;top:177.48px;font-size:14.8px;line-height:17.65px;font-weight:bold;transform:scaleX(0.912);transform-origin:0 0">Установите катушку для намотки шпульки на<br>стержень.</div><div class="t" style="left:532.2px;top:211.94px;font-size:15.2px;line-height:17.65px">Наденьте катушку на стержень так, чтобы<br>нить разматывалась спереди и снизу.</div><div class="t" style="left:546px;top:391.25px;font-size:15.2px;line-height:17.65px">Если нить не будет правильно<br>сматываться с катушки, она может<br>запутаться вокруг стержня для установки<br>катушки.</div><div class="t" style="left:531.8000000000001px;top:481.38px;font-size:14.8px;line-height:17.65px;font-weight:bold;transform:scaleX(0.912);transform-origin:0 0">Наденьте на стержень колпачок катушки.</div><div class="t" style="left:532.2px;top:498.05px;font-size:15.2px;line-height:17.65px">Как можно дальше наденьте колпачок<br>катушки на стержень таким образом, чтобы<br>выпуклая сторона была обращена влево, –<br>до тех пор, пока правая сторона катушки не<br>коснется основания конца стержня.</div><div class="t" style="left:546px;top:662.14px;font-size:15.2px;line-height:17.65px">К машине прилагаются три колпачка<br>катушки (большой, средний и малый).<br>Используйте колпачок, диаметр которого<br>немного больше диаметра катушки. На<br>момент покупки машины на стержне<br>установлен средний колпачок.</div><div class="t" style="left:549.3px;top:894.63px;font-size:13.85px;line-height:14.6px">Колпачок катушки (большой)<br>Колпачок катушки (средний)<br>Катушка</div><div class="t" style="left:546px;top:944.25px;font-size:15.2px;line-height:17.65px">При использовании катушки с<br>перекрестной намоткой нити установите<br>малый колпачок с некоторым просветом<br>между колпачком и катушкой.</div><div class="t" style="left:549.3px;top:1141.70px;font-size:13.85px;line-height:14.65px">Катушка<br>Просвет<br>Колпачок катушки (малый)</div><div class="t" style="left:102px;top:59.68px;font-size:11.6px;line-height:14px;white-space:pre">F0_brotherE.book  Page 15  Sunday, November 2, 2003  10:02 PM</div><div class="t" style="left:570.4px;top:1208.06px;font-size:16.4px;line-height:20px;font-style:italic">Намотка и установка шпульки</div><div class="t" style="left:806.5px;top:1208.33px;font-size:16.5px;line-height:20px">15</div><div class="t" style="left:861px;top:253.66px;font-size:34.5px;line-height:40px;font-style:italic;font-weight:bold;color:#fff">1</div>
</body></html>
